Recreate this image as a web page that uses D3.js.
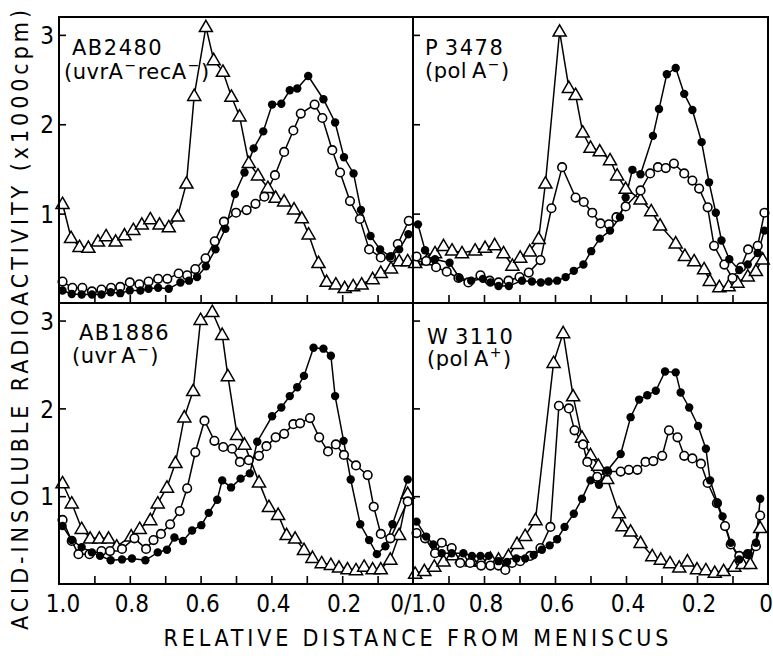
<!DOCTYPE html>
<html>
<head>
<meta charset="utf-8">
<script src="https://cdn.jsdelivr.net/npm/d3@7"></script>
<style>
  body { margin: 0; background: #fff; }
  text { font-family: "DejaVu Sans", sans-serif; fill: #000; }
  .cond { font-family: "DejaVu Sans Condensed", "Liberation Sans Narrow", "DejaVu Sans", sans-serif; }
</style>
</head>
<body>
<svg id="chart" width="773" height="656"></svg>
<script>
// values: [relative distance, cpm x 1000]
const ab2480Tri = [[0.99,1.11],[0.966,0.73],[0.942,0.63],[0.917,0.62],[0.89,0.69],[0.867,0.75],[0.84,0.69],[0.815,0.76],[0.79,0.82],[0.766,0.88],[0.742,0.94],[0.716,0.88],[0.69,0.85],[0.665,0.97],[0.64,1.34],[0.618,2.32],[0.585,3.09],[0.563,2.72],[0.537,2.59],[0.513,2.31],[0.49,2.09],[0.464,1.57],[0.438,1.43],[0.41,1.29],[0.388,1.18],[0.364,1.14],[0.336,1.05],[0.314,0.95],[0.295,0.77],[0.267,0.45],[0.244,0.24],[0.218,0.21],[0.193,0.17],[0.169,0.19],[0.145,0.21],[0.114,0.27],[0.091,0.34],[0.062,0.39],[0.039,0.47],[0.015,0.47]];
const ab2480Filled = [[0.99,0.14],[0.964,0.10],[0.936,0.095],[0.907,0.095],[0.88,0.095],[0.854,0.12],[0.827,0.11],[0.80,0.14],[0.77,0.14],[0.747,0.16],[0.72,0.17],[0.69,0.16],[0.657,0.23],[0.633,0.25],[0.61,0.29],[0.585,0.41],[0.558,0.60],[0.53,0.83],[0.503,1.22],[0.476,1.46],[0.45,1.73],[0.423,1.92],[0.398,2.22],[0.372,2.23],[0.348,2.38],[0.327,2.40],[0.296,2.54],[0.253,2.28],[0.22,2.02],[0.195,1.63],[0.168,1.45],[0.147,1.04],[0.12,0.75],[0.093,0.60],[0.064,0.52],[0.039,0.60],[0.013,0.77]];
const ab2480Open = [[0.99,0.24],[0.962,0.17],[0.934,0.17],[0.907,0.13],[0.88,0.15],[0.853,0.17],[0.827,0.18],[0.80,0.23],[0.773,0.21],[0.747,0.24],[0.72,0.27],[0.694,0.27],[0.662,0.33],[0.638,0.31],[0.615,0.38],[0.586,0.50],[0.56,0.69],[0.534,0.91],[0.50,1.01],[0.47,1.04],[0.445,1.11],[0.42,1.19],[0.39,1.43],[0.364,1.69],[0.338,1.93],[0.317,2.12],[0.278,2.22],[0.256,2.07],[0.228,1.71],[0.206,1.46],[0.178,1.14],[0.15,0.94],[0.124,0.60],[0.091,0.51],[0.062,0.51],[0.043,0.66],[0.012,0.92]];

const p3478Tri = [[0.994,0.45],[0.96,0.48],[0.938,0.56],[0.914,0.64],[0.89,0.59],[0.862,0.56],[0.825,0.59],[0.797,0.62],[0.77,0.65],[0.745,0.56],[0.72,0.42],[0.698,0.51],[0.671,0.58],[0.646,0.72],[0.627,1.34],[0.587,3.04],[0.561,2.41],[0.542,2.33],[0.522,1.91],[0.5,1.74],[0.474,1.70],[0.445,1.60],[0.425,1.43],[0.401,1.28],[0.359,1.16],[0.329,1.03],[0.304,0.87],[0.26,0.67],[0.234,0.53],[0.208,0.47],[0.18,0.38],[0.164,0.25],[0.137,0.18],[0.111,0.19],[0.086,0.23],[0.057,0.30],[0.034,0.36],[0.015,0.49]];
const p3478Filled = [[0.986,0.88],[0.966,0.59],[0.938,0.49],[0.897,0.45],[0.869,0.28],[0.836,0.25],[0.803,0.27],[0.782,0.23],[0.759,0.19],[0.73,0.19],[0.693,0.25],[0.665,0.24],[0.64,0.23],[0.618,0.24],[0.594,0.25],[0.57,0.29],[0.547,0.36],[0.52,0.43],[0.498,0.58],[0.474,0.72],[0.445,0.81],[0.417,0.96],[0.401,1.18],[0.382,1.49],[0.359,1.44],[0.324,1.87],[0.307,2.17],[0.285,2.56],[0.26,2.63],[0.236,2.34],[0.213,2.16],[0.187,1.80],[0.166,1.35],[0.147,1.01],[0.131,0.70],[0.109,0.49],[0.081,0.37],[0.057,0.43],[0.029,0.56],[0.01,0.81]];
const p3478Open = [[0.99,0.52],[0.963,0.47],[0.935,0.40],[0.905,0.35],[0.872,0.28],[0.844,0.23],[0.81,0.31],[0.784,0.25],[0.759,0.23],[0.731,0.25],[0.70,0.29],[0.674,0.34],[0.641,0.48],[0.61,1.06],[0.58,1.52],[0.542,1.18],[0.519,1.13],[0.495,1.01],[0.472,0.89],[0.448,0.88],[0.427,0.96],[0.401,1.08],[0.359,1.26],[0.332,1.45],[0.31,1.52],[0.288,1.51],[0.265,1.56],[0.236,1.45],[0.213,1.37],[0.194,1.28],[0.17,1.07],[0.152,0.64],[0.123,0.43],[0.10,0.28],[0.076,0.40],[0.056,0.60],[0.029,0.64],[0.01,1.01]];

const ab1886Tri = [[0.99,1.15],[0.964,0.92],[0.936,0.63],[0.912,0.52],[0.886,0.52],[0.86,0.52],[0.837,0.43],[0.796,0.545],[0.772,0.63],[0.742,0.73],[0.721,0.92],[0.695,1.10],[0.671,1.38],[0.646,1.90],[0.621,2.20],[0.60,3.01],[0.567,3.10],[0.539,2.84],[0.523,2.37],[0.497,1.70],[0.476,1.59],[0.435,1.16],[0.407,0.88],[0.381,0.79],[0.357,0.56],[0.333,0.52],[0.308,0.39],[0.284,0.30],[0.258,0.24],[0.232,0.22],[0.209,0.19],[0.185,0.17],[0.161,0.16],[0.138,0.20],[0.114,0.17],[0.091,0.17],[0.064,0.28],[0.039,0.56],[0.015,1.03]];
const ab1886Filled = [[0.99,0.66],[0.964,0.50],[0.936,0.42],[0.907,0.36],[0.884,0.32],[0.854,0.27],[0.822,0.28],[0.794,0.29],[0.756,0.27],[0.721,0.36],[0.695,0.39],[0.674,0.53],[0.65,0.49],[0.624,0.61],[0.598,0.67],[0.577,0.81],[0.553,0.96],[0.539,1.18],[0.514,1.10],[0.487,1.20],[0.461,1.26],[0.44,1.62],[0.398,1.91],[0.372,2.01],[0.348,2.14],[0.327,2.24],[0.308,2.37],[0.281,2.69],[0.253,2.68],[0.232,2.60],[0.22,2.14],[0.196,1.63],[0.176,1.19],[0.149,0.68],[0.124,0.50],[0.102,0.34],[0.078,0.43],[0.058,0.68],[0.015,1.19]];
const ab1886Open = [[0.99,0.73],[0.964,0.49],[0.945,0.34],[0.914,0.34],[0.88,0.375],[0.856,0.375],[0.822,0.40],[0.787,0.52],[0.754,0.40],[0.733,0.50],[0.712,0.57],[0.686,0.68],[0.659,0.83],[0.638,1.09],[0.615,1.50],[0.589,1.86],[0.561,1.63],[0.536,1.56],[0.511,1.54],[0.489,1.39],[0.464,1.41],[0.435,1.46],[0.414,1.57],[0.388,1.67],[0.364,1.71],[0.338,1.82],[0.319,1.83],[0.291,1.89],[0.265,1.67],[0.24,1.51],[0.218,1.59],[0.195,1.47],[0.161,1.35],[0.128,1.24],[0.111,0.88],[0.091,0.57],[0.064,0.52],[0.015,0.94]];

const w3110Tri = [[0.994,0.12],[0.968,0.15],[0.94,0.20],[0.914,0.26],[0.888,0.33],[0.862,0.30],[0.834,0.26],[0.808,0.26],[0.782,0.29],[0.759,0.28],[0.731,0.32],[0.707,0.46],[0.684,0.55],[0.655,0.73],[0.604,2.52],[0.577,2.86],[0.549,2.14],[0.524,1.67],[0.50,1.47],[0.478,1.35],[0.453,1.20],[0.42,0.81],[0.41,0.66],[0.387,0.60],[0.359,0.47],[0.326,0.32],[0.302,0.28],[0.276,0.24],[0.25,0.19],[0.227,0.26],[0.20,0.17],[0.175,0.16],[0.15,0.13],[0.125,0.15],[0.095,0.20],[0.072,0.23],[0.05,0.23],[0.022,0.64]];
const w3110Filled = [[0.99,0.71],[0.963,0.54],[0.943,0.45],[0.919,0.35],[0.891,0.35],[0.858,0.35],[0.834,0.32],[0.81,0.32],[0.787,0.32],[0.759,0.26],[0.735,0.25],[0.709,0.29],[0.684,0.29],[0.66,0.33],[0.637,0.39],[0.615,0.44],[0.594,0.51],[0.573,0.65],[0.547,0.80],[0.524,0.97],[0.50,1.18],[0.476,1.13],[0.453,1.29],[0.415,1.48],[0.387,1.90],[0.363,2.10],[0.34,2.15],[0.316,2.20],[0.29,2.42],[0.26,2.41],[0.246,2.18],[0.222,2.01],[0.197,1.80],[0.175,1.54],[0.163,1.18],[0.142,0.92],[0.128,0.77],[0.105,0.47],[0.081,0.28],[0.057,0.34],[0.034,0.47],[0.022,0.97]];
const w3110Open = [[0.99,0.58],[0.966,0.52],[0.938,0.35],[0.919,0.47],[0.891,0.41],[0.867,0.24],[0.839,0.24],[0.808,0.21],[0.782,0.21],[0.759,0.21],[0.74,0.16],[0.721,0.24],[0.698,0.26],[0.67,0.32],[0.641,0.41],[0.613,0.65],[0.589,2.03],[0.561,2.00],[0.545,1.75],[0.521,1.59],[0.509,1.39],[0.481,1.22],[0.453,1.28],[0.415,1.28],[0.392,1.30],[0.368,1.30],[0.345,1.39],[0.323,1.40],[0.298,1.46],[0.279,1.75],[0.255,1.67],[0.236,1.46],[0.213,1.43],[0.189,1.37],[0.17,1.15],[0.144,0.92],[0.121,0.66],[0.105,0.45],[0.081,0.32],[0.057,0.34],[0.034,0.43],[0.022,0.78]];

const strains = ['AB2480', 'P\u20093478', 'AB1886', 'W\u20093110'];
// odd entries are superscripts
const genotypes = [
  ['(uvrA', '\u2212', 'recA', '\u2212', ')'],
  ['(pol\u2009A', '\u2212', ')'],
  ['(uvr\u2009A', '\u2212', ')'],
  ['(pol\u2009A', '+', ')']
];
const yTickValues = [1, 2, 3];
const minorTicks = [0.1, 0.2, 0.3, 0.4, 0.5, 0.6, 0.7, 0.8, 0.9];
const leftTickLabels = [[1, '1.0'], [0.8, '0.8'], [0.6, '0.6'], [0.4, '0.4'], [0.2, '0.2']];
const rightTickLabels = [[0.8, '0.8'], [0.6, '0.6'], [0.4, '0.4'], [0.2, '0.2'], [0, '0']];

const frameLeft = 59, frameMid = 413, frameRight = 768;
const frameTop = 17, frameMidY = 303, frameBottom = 584;

const panels = [
  { col: 0, row: 0, strain: strains[0], genotype: genotypes[0], tri: ab2480Tri, filled: ab2480Filled, open: ab2480Open, lx: [72, 64], ly: [55, 79] },
  { col: 1, row: 0, strain: strains[1], genotype: genotypes[1], tri: p3478Tri, filled: p3478Filled, open: p3478Open, lx: [425, 425], ly: [55, 78] },
  { col: 0, row: 1, strain: strains[2], genotype: genotypes[2], tri: ab1886Tri, filled: ab1886Filled, open: ab1886Open, lx: [79, 72], ly: [340, 363] },
  { col: 1, row: 1, strain: strains[3], genotype: genotypes[3], tri: w3110Tri, filled: w3110Filled, open: w3110Open, lx: [427, 427], ly: [344, 366] }
];

const svg = d3.select('#chart');
const tri = d3.symbol().type(d3.symbolTriangle).size(74);

panels.forEach(p => {
  const x = d3.scaleLinear()
      .domain([1, 0])
      .range(p.col === 0 ? [frameLeft, frameMid] : [frameMid, frameRight]);
  const y = d3.scaleLinear()
      .domain([0, 3.2])
      .range(p.row === 0 ? [frameMidY, frameTop] : [frameBottom, frameMidY]);
  const g = svg.append('g');

  // inward ticks
  const yAxis = g.append('g')
      .attr('transform', `translate(${x(1)},0)`)
      .call(d3.axisLeft(y).tickValues(yTickValues).tickSize(-7).tickPadding(6)
        .tickFormat(p.col === 0 ? d3.format('d') : () => ''));
  yAxis.select('.domain').remove();
  yAxis.selectAll('line').attr('stroke-width', 1.6);
  yAxis.selectAll('text').attr('class', 'cond').attr('font-size', 24).attr('dy', '0.36em').attr('x', -5);

  const xAxis = g.append('g')
      .attr('transform', `translate(0,${y(0)})`)
      .call(d3.axisBottom(x).tickValues(minorTicks).tickSize(-8).tickFormat(() => ''));
  xAxis.select('.domain').remove();
  xAxis.selectAll('line').attr('stroke-width', 1.6);

  if (p.row === 1) {
    const labs = p.col === 0 ? leftTickLabels : rightTickLabels;
    g.selectAll('.xlab')
      .data(labs)
      .join('text')
        .attr('class', 'cond')
        .attr('x', d => x(d[0]) + (d[0] === 1 ? 4 : d[0] === 0 ? -2 : 2))
        .attr('y', 612)
        .attr('text-anchor', 'middle')
        .attr('font-size', 24)
        .text(d => d[1]);
  }

  const line = d3.line().x(d => x(d[0])).y(d => y(d[1]));
  [p.tri, p.open, p.filled].forEach(s => {
    g.append('path')
      .attr('d', line(s))
      .attr('fill', 'none')
      .attr('stroke', '#000')
      .attr('stroke-width', 1.5);
  });

  g.selectAll('.tri')
    .data(p.tri)
    .join('path')
      .attr('transform', d => `translate(${x(d[0])},${y(d[1]) + 1})`)
      .attr('d', tri)
      .attr('fill', '#fff')
      .attr('stroke', '#000')
      .attr('stroke-width', 1.5);

  g.selectAll('.open')
    .data(p.open)
    .join('circle')
      .attr('cx', d => x(d[0]))
      .attr('cy', d => y(d[1]))
      .attr('r', 4.3)
      .attr('fill', '#fff')
      .attr('stroke', '#000')
      .attr('stroke-width', 1.6);

  g.selectAll('.filled')
    .data(p.filled)
    .join('circle')
      .attr('cx', d => x(d[0]))
      .attr('cy', d => y(d[1]))
      .attr('r', 4.2)
      .attr('fill', '#000');

  // strain and genotype
  g.append('text')
    .attr('x', p.lx[0])
    .attr('y', p.ly[0])
    .attr('font-size', 21)
    .attr('letter-spacing', 1.5)
    .text(p.strain);

  const gt = g.append('text')
    .attr('x', p.lx[1])
    .attr('y', p.ly[1])
    .attr('font-size', 21)
    .attr('letter-spacing', 0.5);
  let shifted = false;
  p.genotype.forEach((part, i) => {
    const sup = i % 2 === 1;
    const ts = gt.append('tspan').text(part);
    if (sup) {
      ts.attr('font-size', 14).attr('dy', -9).attr('dx', 1);
      shifted = true;
    } else if (shifted) {
      ts.attr('dy', 9).attr('dx', 1);
      shifted = false;
    }
  });

  g.append('rect')
    .attr('x', x(1))
    .attr('y', y.range()[1])
    .attr('width', x(0) - x(1))
    .attr('height', y.range()[0] - y.range()[1])
    .attr('fill', 'none')
    .attr('stroke', '#000')
    .attr('stroke-width', 2);
});

svg.append('text')
  .attr('class', 'cond')
  .attr('x', 418)
  .attr('y', 612)
  .attr('text-anchor', 'middle')
  .attr('font-size', 24)
  .text('0/1.0');

svg.append('text')
  .attr('class', 'cond')
  .attr('x', 416)
  .attr('y', 646)
  .attr('text-anchor', 'middle')
  .attr('font-size', 23)
  .attr('textLength', 505)
  .attr('lengthAdjust', 'spacing')
  .text('RELATIVE DISTANCE FROM MENISCUS');

svg.append('text')
  .attr('class', 'cond')
  .attr('transform', 'translate(28,320) rotate(-90)')
  .attr('text-anchor', 'middle')
  .attr('font-size', 23)
  .attr('textLength', 620)
  .attr('lengthAdjust', 'spacing')
  .text('ACID-INSOLUBLE RADIOACTIVITY (x1000cpm)');
</script>
</body>
</html>
